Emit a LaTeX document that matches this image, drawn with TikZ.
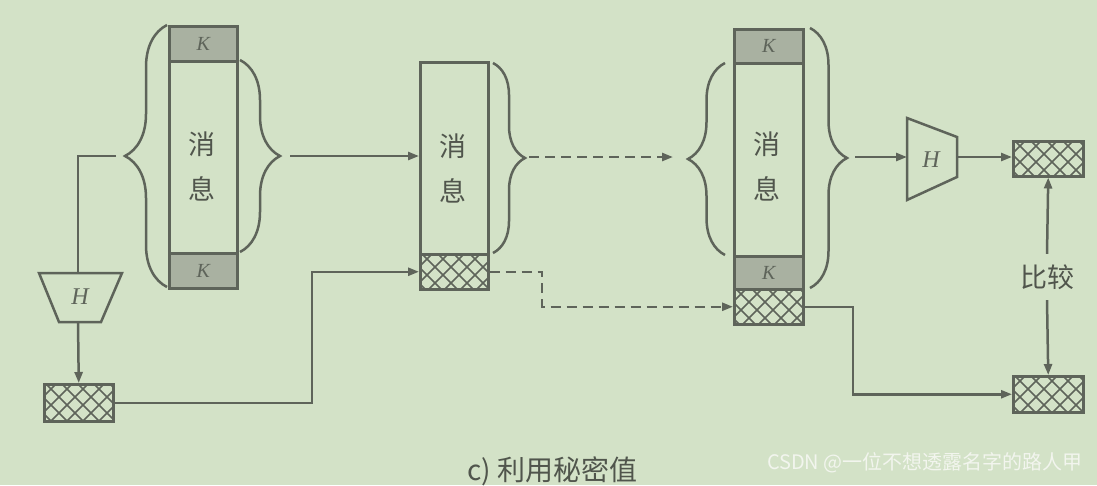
\documentclass[tikz,border=0pt]{standalone}
\usepackage{fontspec}
\newfontfamily\cjk{Noto Sans CJK SC}
\newfontfamily\tms{Liberation Serif}
\usetikzlibrary{arrows.meta,decorations.pathreplacing,calc}
\definecolor{bg}{HTML}{D3E2C7}
\definecolor{ink}{HTML}{5E645A}
\definecolor{kfill}{HTML}{A9B1A1}
\definecolor{wmc}{HTML}{F2F5EE}
\definecolor{capc}{HTML}{50554C}
\newcommand\hatchfill[1]{%
  \begin{scope}
    \clip (#1.south west) rectangle (#1.north east);
    \foreach \d in {-80,-64,...,160} {
      \draw[hl] ($(#1.north west)+(\d,-2)$) -- ++(60,60);
      \draw[hl] ($(#1.north west)+(\d,-2)$) -- ++(-60,60);
    }
  \end{scope}}
\begin{document}
\begin{tikzpicture}[x=1pt,y=-1pt,
  ln/.style={draw=ink, line width=2.5pt},
  hl/.style={draw=ink, line width=1.7pt},
  arr/.style={ln, -{Triangle[length=11pt,width=8pt]}},
  dsh/.style={dash pattern=on 10pt off 6pt},
  cell/.style={ln, inner sep=0pt, anchor=north west, minimum width=68pt},
  kcell/.style={cell, fill=kfill, font=\tms\itshape\fontsize{20}{20}\selectfont, text=ink},
  msg/.style={font=\cjk\fontsize{27}{45}\selectfont, text=capc, align=center, inner sep=0pt},
  hlab/.style={font=\tms\itshape\fontsize{24}{24}\selectfont, text=ink, inner sep=0pt},
  brc/.style={ln, decorate},
]
\fill[bg] (0,0) rectangle (1097,485);
\useasboundingbox (0,0) rectangle (1097,485);

% ---- bar 1 ----
\node[kcell, minimum height=35pt] (k1t) at (168,25) {K};
\node[cell, minimum height=192pt] (m1) at (168,60) {};
\node[kcell, minimum height=35pt] (k1b) at (168,252) {K};
\node[msg] (m1t) at (202,166) {消\\息};
\draw[brc, decoration={brace, amplitude=42pt}] (167,287) -- (167,25);
\draw[brc, decoration={brace, amplitude=40pt}] (240,60) -- (240,252);

% ---- H1 ----
\node[hlab] (H1) at (80,297) {H};
\draw[ln] (39,273) -- (122,273) -- (101,322) -- (59,322) -- cycle;
\coordinate (H1n) at (78,273);
\coordinate (H1s) at (78,322);
\node[cell, minimum width=69pt, minimum height=37pt] (h1) at (43,383) {};
\hatchfill{h1}

% ---- bar 2 ----
\node[cell, minimum height=192pt] (m2) at (419,61) {};
\node[cell, minimum height=35pt] (h2) at (419,253) {};
\hatchfill{h2}
\node[msg] (m2t) at (453,168) {消\\息};
\draw[brc, decoration={brace, amplitude=32pt}] (493,63) -- (493,253);

% ---- bar 3 ----
\node[kcell, minimum width=69pt, minimum height=34pt] (k3t) at (733,28) {K};
\node[cell, minimum width=69pt, minimum height=193pt] (m3) at (733,62) {};
\node[kcell, minimum width=69pt, minimum height=33pt] (k3b) at (733,255) {K};
\node[cell, minimum width=69pt, minimum height=35pt] (h3) at (733,288) {};
\hatchfill{h3}
\node[msg] (m3t) at (767,166) {消\\息};
\draw[brc, decoration={brace, amplitude=37pt}] (725,255) -- (725,63);
\draw[brc, decoration={brace, amplitude=37pt}] (810,28) -- (810,288);

% ---- H2 ----
\node[hlab] (H2) at (931,160) {H};
\draw[ln] (907,118) -- (957,137) -- (957,177) -- (907,200) -- cycle;
\coordinate (H2w) at (907,157);
\coordinate (H2e) at (957,157);

% ---- compare boxes ----
\node[cell, minimum width=70pt, minimum height=35pt] (h4) at (1012,140) {};
\hatchfill{h4}
\node[cell, minimum width=70pt, minimum height=36pt] (h5) at (1012,375) {};
\hatchfill{h5}
\node[font=\cjk\fontsize{27}{27}\selectfont, text=capc, inner sep=0pt, minimum height=46pt] (cmp) at (1047,277) {比较};

% ---- connectors ----
\coordinate (t1) at (116,156);
\draw[ln] (t1) -| (H1n);
\draw[arr] (H1s) -- (h1.north);
\coordinate (j1) at (312,402);
\draw[arr] (h1.east) -- (h1.east -| j1) |- (h2.west);
\coordinate (t2) at (290,156);
\draw[arr] (t2) -- (t2 -| m2.west);
\coordinate (t3) at (529,157);
\coordinate (e3) at (673,157);
\draw[arr, dsh] (t3) -- (e3);
\coordinate (j2) at (542,0);
\draw[arr, dsh] (h2.east) -- (h2.east -| j2) |- (h3.west);
\coordinate (t4) at (855,157);
\draw[arr] (t4) -- (H2w);
\draw[arr] (H2e) -- (H2e -| h4.west);
\coordinate (j3) at (853,0);
\draw[arr] (h3.east) -- (h3.east -| j3) |- (h5.west);
\draw[arr] (cmp.north) -- (h4.south);
\draw[arr] (cmp.south) -- (h5.north);

% ---- caption & watermark ----
\node[font=\cjk\fontsize{28}{30}\selectfont, text=capc, anchor=west, inner sep=0pt] (cap) at (467,471) {c) 利用秘密值};
\node[font=\cjk\fontsize{20}{22}\selectfont, text=wmc, anchor=east, inner sep=0pt] (wm) at (1083,463) {CSDN @一位不想透露名字的路人甲};
\end{tikzpicture}
\end{document}
